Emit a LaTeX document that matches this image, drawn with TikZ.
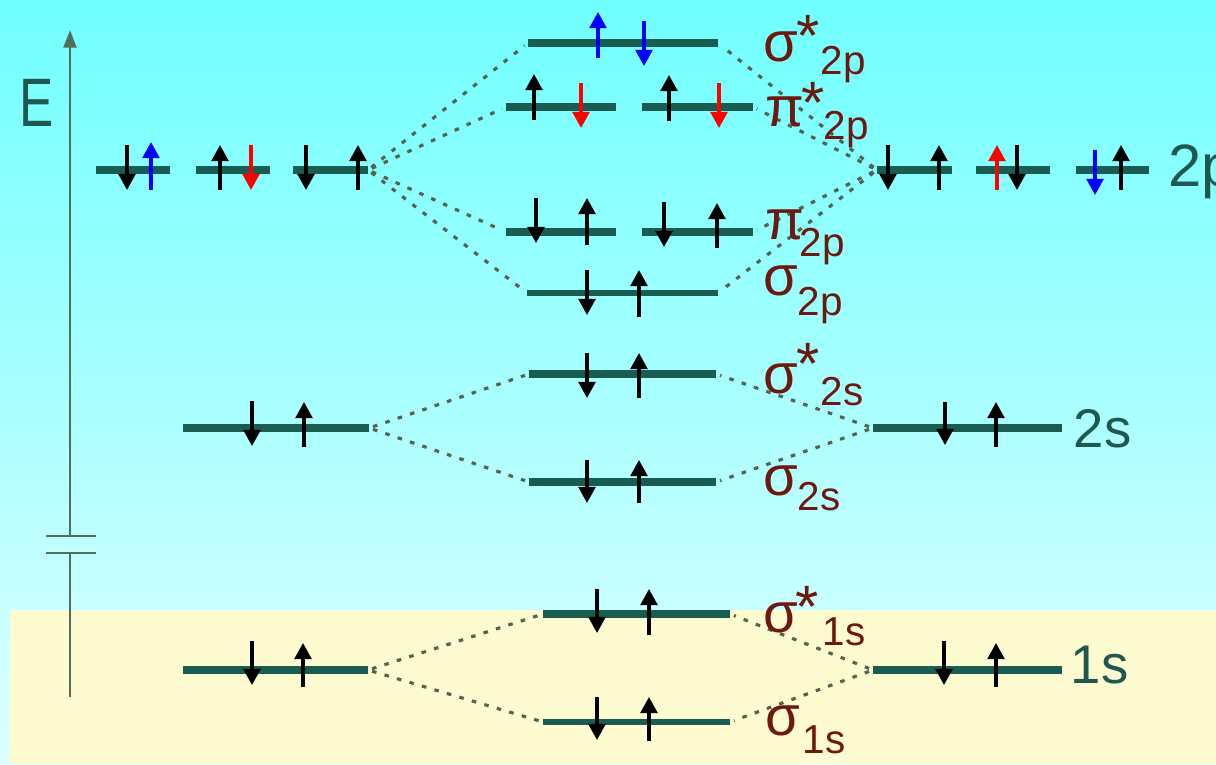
\documentclass[tikz,border=0pt]{standalone}
\usepackage{fontspec}
\setmainfont{Liberation Sans}
\usetikzlibrary{arrows.meta}
\definecolor{lvlc}{RGB}{24,92,82}
\definecolor{labc}{RGB}{110,25,15}
\definecolor{grayc}{RGB}{30,88,80}
\definecolor{axc}{RGB}{80,110,90}
\definecolor{dashc}{RGB}{85,100,80}
\definecolor{bgtop}{RGB}{112,255,255}
\definecolor{bgbot}{RGB}{222,255,255}
\definecolor{bgyel}{RGB}{255,251,208}
\definecolor{spinred}{RGB}{255,0,0}
\definecolor{spinblue}{RGB}{0,0,255}
\newcommand\mylevel[5]{\coordinate (#1w) at (#2,#4); \coordinate (#1e) at (#3,#4); \draw[#5] (#1w) -- (#1e);}
\newcommand\myspin[4]{\draw[spin,#1] (#2,#3) -- (#2,#4);}
\begin{document}
\begin{tikzpicture}[x=0.01cm,y=-0.01cm,
  lvl/.style={draw=lvlc,line width=2.3pt},
  midlvl/.style={draw=lvlc,line width=2pt},
  thinlvl/.style={draw=lvlc,line width=1.7pt},
  spin/.style={line width=0.9pt,-{Triangle[length=4.6pt,width=4.8pt]}},
  corr/.style={draw=dashc,line width=0.9pt,dash pattern=on 1.3pt off 2.4pt,shorten <=1.2pt,shorten >=1.2pt},
  mo/.style={text=labc,inner sep=0pt,anchor=base west,font=\fontsize{16}{16}\selectfont},
  mostar/.style={text=labc,inner sep=0pt,anchor=base,font=\fontsize{17}{17}\selectfont},
  mosub/.style={text=labc,inner sep=0pt,anchor=base west,font=\fontsize{11.5}{11.5}\selectfont},
  ao/.style={text=grayc,inner sep=0pt,anchor=base west},
  axis/.style={draw=axc,line width=0.85pt}]
% background
\shade[top color=bgtop,bottom color=bgbot] (0,0) rectangle (1216,764);
\fill[bgyel] (10,610) rectangle (1216,764);
\useasboundingbox (0,0) rectangle (1216,764);
% energy axis
\coordinate (ax0) at (70,697); \coordinate (ax1) at (70,553);
\coordinate (ax2) at (70,536); \coordinate (ax3) at (70,30);
\draw[axis] (ax0) -- (ax1);
\draw[axis,-{Triangle[length=5pt,width=3.6pt]}] (ax2) -- (ax3);
\coordinate (br1a) at (46,536); \coordinate (br1b) at (96,536);
\coordinate (br2a) at (46,553); \coordinate (br2b) at (96,553);
\draw[axis] (br1a) -- (br1b);
\draw[axis] (br2a) -- (br2b);
\node[ao,font=\fontsize{19.5}{19.5}\selectfont] (E) at (19,127) {\scalebox{0.75}[1]{E}};
% levels
\mylevel{Apa}{96}{170}{170}{lvl}
\mylevel{Apb}{196}{270}{170}{lvl}
\mylevel{Apc}{293}{368}{170}{lvl}
\mylevel{Bpa}{877}{952}{170}{lvl}
\mylevel{Bpb}{976}{1050}{170}{lvl}
\mylevel{Bpc}{1076}{1149}{170}{lvl}
\mylevel{SSp}{528}{718}{43}{lvl}
\mylevel{PSa}{506}{616}{107}{lvl}
\mylevel{PSb}{642}{753}{107}{lvl}
\mylevel{Pa}{506}{616}{232}{midlvl}
\mylevel{Pb}{642}{753}{232}{midlvl}
\mylevel{Sp}{527}{718}{293}{thinlvl}
\mylevel{SSs}{529}{716}{374}{lvl}
\mylevel{Ss}{529}{716}{482}{midlvl}
\mylevel{As}{183}{369}{428}{lvl}
\mylevel{Bs}{873}{1062}{428}{lvl}
\mylevel{SSo}{543}{730}{614}{lvl}
\mylevel{So}{543}{730}{722}{thinlvl}
\mylevel{Ao}{183}{368}{670}{midlvl}
\mylevel{Bo}{873}{1062}{670}{midlvl}
% correlation lines
\draw[corr] (Apce) -- (SSpw);
\draw[corr] (Apce) -- (PSaw);
\draw[corr] (Apce) -- (Paw);
\draw[corr] (Apce) -- (Spw);
\draw[corr] (Bpaw) -- (SSpe);
\draw[corr] (Bpaw) -- (PSbe);
\draw[corr] (Bpaw) -- (Pbe);
\draw[corr] (Bpaw) -- (Spe);
\draw[corr] (Ase) -- (SSsw);
\draw[corr] (Ase) -- (Ssw);
\draw[corr] (Bsw) -- (SSse);
\draw[corr] (Bsw) -- (Sse);
\draw[corr] (Aoe) -- (SSow);
\draw[corr] (Aoe) -- (Sow);
\draw[corr] (Bow) -- (SSoe);
\draw[corr] (Bow) -- (Soe);
% spins: left 2p
\myspin{black}{127}{145}{190}
\myspin{spinblue}{151}{190}{142}
\myspin{black}{220}{190}{145}
\myspin{spinred}{251}{145}{190}
\myspin{black}{306}{145}{190}
\myspin{black}{358}{190}{145}
% right 2p
\myspin{black}{888}{145}{190}
\myspin{black}{939}{190}{145}
\myspin{spinred}{997}{190}{145}
\myspin{black}{1017}{145}{190}
\myspin{spinblue}{1095}{150}{195}
\myspin{black}{1121}{190}{145}
% sigma* 2p
\myspin{spinblue}{598}{58}{12}
\myspin{spinblue}{644}{21}{66}
% pi* 2p
\myspin{black}{534}{120}{74}
\myspin{spinred}{581}{83}{128}
\myspin{black}{669}{121}{75}
\myspin{spinred}{719}{83}{128}
% pi 2p
\myspin{black}{536}{198}{243}
\myspin{black}{587}{245}{198}
\myspin{black}{664}{202}{247}
\myspin{black}{717}{248}{203}
% sigma 2p
\myspin{black}{587}{270}{315}
\myspin{black}{639}{317}{270}
% sigma* 2s
\myspin{black}{587}{353}{398}
\myspin{black}{639}{398}{353}
% sigma 2s
\myspin{black}{587}{460}{503}
\myspin{black}{639}{503}{460}
% atomic 2s
\myspin{black}{252}{401}{446}
\myspin{black}{304}{447}{402}
\myspin{black}{945}{402}{445}
\myspin{black}{996}{447}{402}
% sigma* 1s
\myspin{black}{597}{589}{633}
\myspin{black}{649}{635}{589}
% sigma 1s
\myspin{black}{597}{697}{740}
\myspin{black}{649}{741}{697}
% atomic 1s
\myspin{black}{252}{641}{685}
\myspin{black}{303}{687}{643}
\myspin{black}{944}{641}{685}
\myspin{black}{996}{687}{643}
% MO labels
\node[mo] (l1) at (763,62) {σ};
\node[mostar] (l1s) at (808,57) {*};
\node[mosub] (l1b) at (820,75) {2p};
\node[mo] (l2) at (765,127) {π};
\node[mostar] (l2s) at (813,124) {*};
\node[mosub] (l2b) at (823,140) {2p};
\node[mo] (l3) at (765,240) {π};
\node[mosub] (l3b) at (799,257) {2p};
\node[mo] (l4) at (763,295) {σ};
\node[mosub] (l4b) at (797,315) {2p};
\node[mo] (l5) at (763,393) {σ};
\node[mostar] (l5s) at (808,384) {*};
\node[mosub] (l5b) at (820,405) {2s};
\node[mo] (l6) at (763,495) {σ};
\node[mosub] (l6b) at (797,510) {2s};
\node[mo] (l7) at (763,632) {σ};
\node[mostar] (l7s) at (807,627) {*};
\node[mosub] (l7b) at (822,645) {1s};
\node[mo] (l8) at (765,735) {σ};
\node[mosub] (l8b) at (802,753) {1s};
% AO labels
\node[ao,font=\fontsize{17}{17}\selectfont] (r2p) at (1168,187) {2p};
\node[ao,font=\fontsize{15.5}{15.5}\selectfont] (r2s) at (1073,447) {2s};
\node[ao,font=\fontsize{15.5}{15.5}\selectfont] (r1s) at (1070,683) {1s};
\end{tikzpicture}
\end{document}
